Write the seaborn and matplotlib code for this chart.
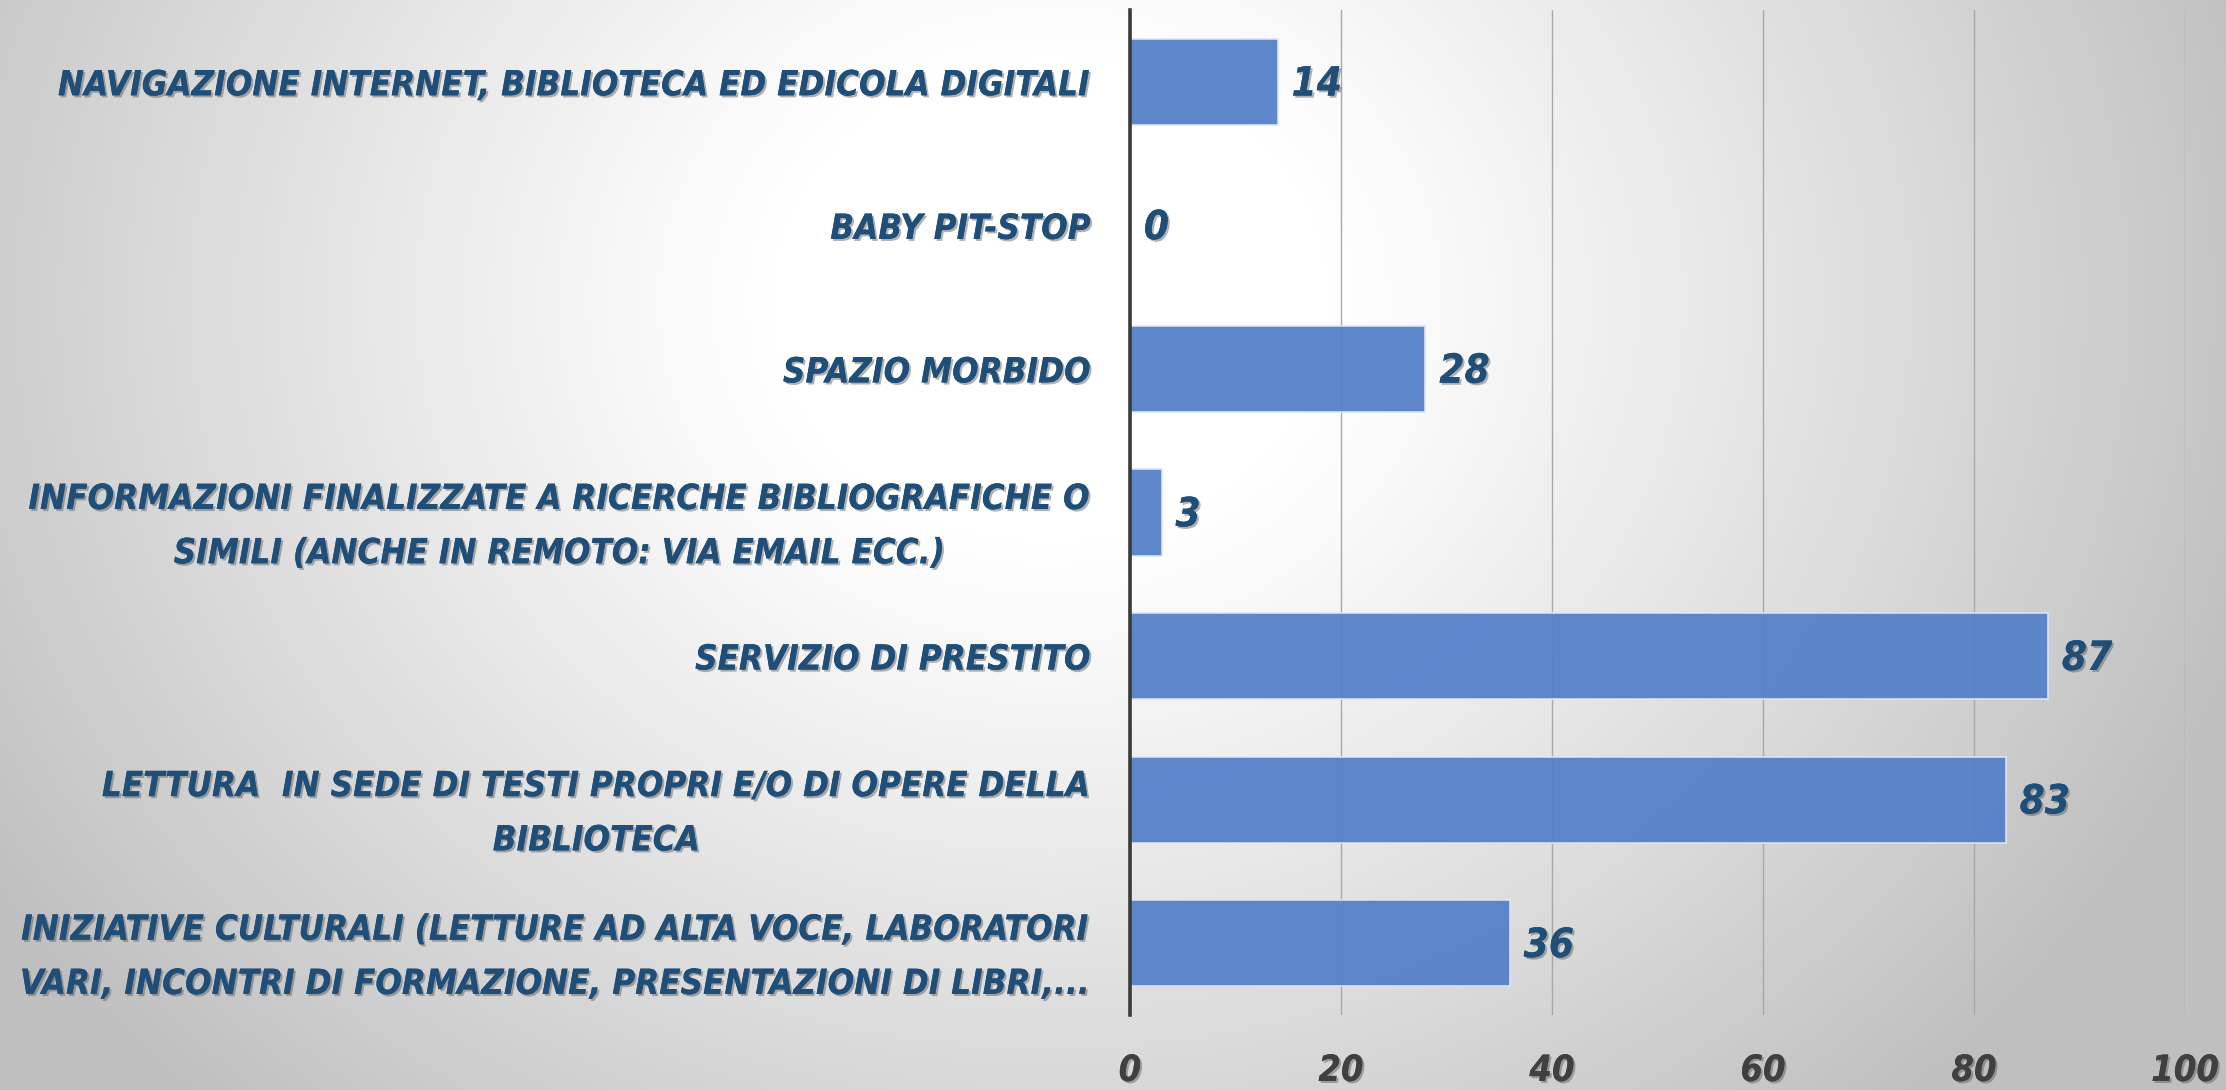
import numpy as np
import pandas as pd
import matplotlib
matplotlib.use("Agg")
import matplotlib.pyplot as plt
import matplotlib.patheffects as pe
from matplotlib import font_manager
import seaborn as sns

# data
categories = [
    "NAVIGAZIONE INTERNET, BIBLIOTECA ED EDICOLA DIGITALI",
    "BABY PIT-STOP",
    "SPAZIO MORBIDO",
    "INFORMAZIONI FINALIZZATE A RICERCHE BIBLIOGRAFICHE O\nSIMILI (ANCHE IN REMOTO: VIA EMAIL ECC.)",
    "SERVIZIO DI PRESTITO",
    "LETTURA  IN SEDE DI TESTI PROPRI E/O DI OPERE DELLA\nBIBLIOTECA",
    "INIZIATIVE CULTURALI (LETTURE AD ALTA VOCE, LABORATORI\nVARI, INCONTRI DI FORMAZIONE, PRESENTAZIONI DI LIBRI,...",
]
values = [14, 0, 28, 3, 87, 83, 36]
x_ticks = [0, 20, 40, 60, 80, 100]

bar_color = "#5580c9"
label_color = "#1f4e79"
tick_color = "#404040"

sns.set_style("white")

# a condensed bold italic face is closest to the original; fall back if missing
has_cond = any(f.name == "DejaVu Sans" and f.stretch == "condensed"
               for f in font_manager.fontManager.ttflist)
stretch = "condensed" if has_cond else "normal"
plt.rcParams["font.family"] = ["DejaVu Sans"]
plt.rcParams["font.stretch"] = stretch

W, H = 2226, 1090
fig = plt.figure(figsize=(W / 100, H / 100), dpi=100)

# radial grey background
bg = fig.add_axes([0, 0, 1, 1], zorder=-10)
yy, xx = np.mgrid[0:H, 0:W]
r = np.hypot(xx - 1050, (yy - 300) * 1.15)
shade = 1 - 0.25 * np.clip((r - 280) / 980, 0, 1) ** 1.1
bg.imshow(np.dstack([shade] * 3), aspect="auto", extent=[0, 1, 0, 1])
bg.axis("off")

ax = fig.add_axes([0.5076, 0.0688, 0.4740, 0.9220])
ax.set_facecolor("none")

df = pd.DataFrame({"cat": categories, "val": values})
sns.barplot(data=df, x="val", y="cat", orient="h", color=bar_color,
            width=0.6, saturation=1, alpha=0.95, edgecolor="#dde6f5",
            linewidth=1.2, ax=ax, zorder=3)

ax.set_xlim(0, 100)
ax.set_xticks(x_ticks)
ax.grid(axis="x", color="#a8a8a8", linewidth=1.0, zorder=1)
ax.set_axisbelow(True)
for s in ["top", "right", "bottom"]:
    ax.spines[s].set_visible(False)
ax.spines["left"].set_color("#3a3a3a")
ax.spines["left"].set_linewidth(2.6)
ax.spines["left"].set_zorder(5)
ax.set_xlabel("")
ax.set_ylabel("")

shadow = [pe.withSimplePatchShadow(offset=(1.5, -1.5), shadow_rgbFace="#555555", alpha=0.45), pe.Normal()]

ax.tick_params(axis="y", length=0, pad=28)
ax.tick_params(axis="x", length=0, pad=28)
for t in ax.get_yticklabels():
    t.set_fontsize(25 if has_cond else 22)
    t.set_fontweight("bold")
    t.set_fontstyle("italic")
    t.set_fontstretch(stretch)
    t.set_color(label_color)
    t.set_multialignment("center")
    t.set_linespacing(1.75)
    t.set_path_effects(shadow)
for t in ax.get_xticklabels():
    t.set_fontsize(26)
    t.set_fontweight("bold")
    t.set_fontstyle("italic")
    t.set_fontstretch(stretch)
    t.set_color(tick_color)
    t.set_path_effects(shadow)

for i, v in enumerate(values):
    ax.annotate(str(v), xy=(v, i), xytext=(10, -2), textcoords="offset points",
                ha="left", va="center", fontsize=29, fontweight="bold",
                fontstyle="italic", fontstretch=stretch, color=label_color,
                path_effects=shadow, zorder=6)

fig.savefig("out.png", dpi=100)
